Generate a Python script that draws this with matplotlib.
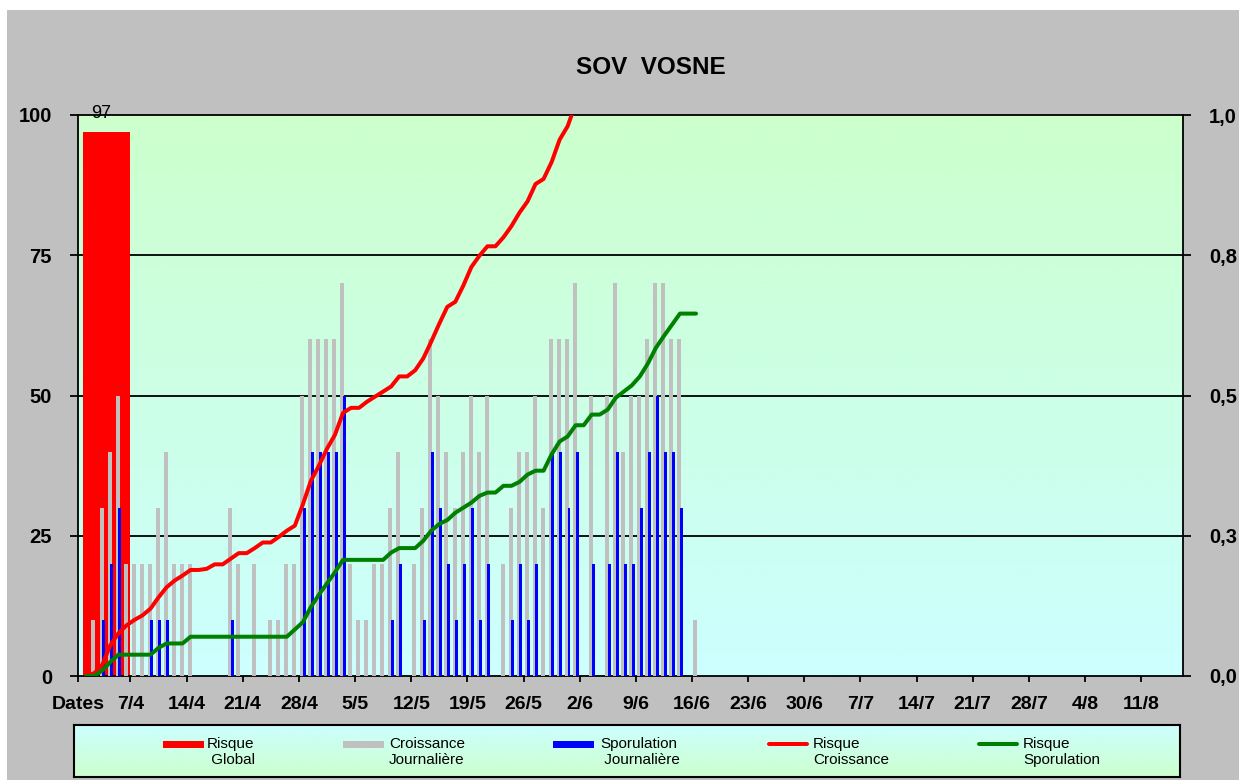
import numpy as np
import matplotlib
matplotlib.use("Agg")
import matplotlib.pyplot as plt
from matplotlib.patches import Rectangle
from matplotlib.lines import Line2D

plt.rcParams['font.family'] = ['Liberation Sans', 'DejaVu Sans']

# ---------------- data ----------------
title = "SOV  VOSNE"
date_labels = ["Dates", "7/4", "14/4", "21/4", "28/4", "5/5", "12/5", "19/5", "26/5", "2/6",
               "9/6", "16/6", "23/6", "30/6", "7/7", "14/7", "21/7", "28/7", "4/8", "11/8"]
left_ticks = [0, 25, 50, 75, 100]
right_ticks = [0.0, 0.25, 0.5, 0.75, 1.0]
right_tick_labels = ["0,0", "0,3", "0,5", "0,8", "1,0"]

risque_global = 97
risque_global_day = 2.5

croissance_journaliere = [0, 10, 30, 40, 50, 20, 20, 20, 20, 30, 40, 20, 20, 20, 0, 0, 0, 0, 30, 20,
                          0, 20, 0, 10, 10, 20, 20, 50, 60, 60, 60, 60, 70, 20, 10, 10, 20, 20, 30, 40,
                          0, 20, 30, 60, 50, 40, 30, 40, 50, 40, 50, 0, 20, 30, 40, 40, 50, 30, 60, 60,
                          60, 70, 0, 50, 0, 50, 70, 40, 50, 50, 60, 70, 70, 60, 60, 0, 10]
sporulation_journaliere = [0, 0, 10, 20, 30, 0, 0, 0, 10, 10, 10, 0, 0, 0, 0, 0, 0, 0, 10, 0,
                           0, 0, 0, 0, 0, 0, 0, 30, 40, 40, 40, 40, 50, 0, 0, 0, 0, 0, 10, 20,
                           0, 0, 10, 40, 30, 20, 10, 20, 30, 10, 20, 0, 0, 10, 20, 10, 20, 0, 40, 40,
                           30, 40, 0, 20, 0, 20, 40, 20, 20, 30, 40, 50, 40, 40, 30, 0, 0]
risque_croissance = [0, 0.5, 2, 5.5, 7.6, 9, 10, 10.8, 12, 14, 15.8, 17, 17.9, 18.9, 18.9, 19.1,
                     19.9, 19.9, 20.9, 21.9, 21.9, 22.8, 23.8, 23.8, 24.8, 25.9, 26.8, 30.6, 34.8,
                     37.5, 40.5, 43, 46.9, 47.8, 47.8, 48.9, 49.8, 50.7, 51.6, 53.4, 53.4, 54.5,
                     56.6, 59.6, 62.8, 65.8, 66.7, 69.6, 72.9, 74.9, 76.6, 76.6, 78.2, 80.2, 82.6,
                     84.6, 87.7, 88.6, 91.6, 95.6, 98, 102]
risque_sporulation = [0, 0, 1, 2.5, 3.8, 3.8, 3.8, 3.8, 3.8, 5, 5.8, 5.8, 5.8, 7, 7, 7, 7, 7, 7, 7,
                      7, 7, 7, 7, 7, 7, 8.3, 9.6, 12.3, 14.5, 16.5, 18.5, 20.7, 20.7, 20.7, 20.7,
                      20.7, 20.7, 22, 22.8, 22.8, 22.8, 24.1, 25.9, 27.1, 27.8, 29.1, 30, 30.9,
                      32.1, 32.7, 32.7, 33.9, 33.9, 34.6, 35.9, 36.6, 36.6, 39.5, 41.8, 42.7, 44.7,
                      44.7, 46.6, 46.6, 47.5, 49.6, 50.7, 51.8, 53.4, 55.7, 58.5, 60.6, 62.6, 64.6,
                      64.6, 64.6]

legend_labels = [("Risque", " Global"), ("Croissance", "Journalière"), ("Sporulation", " Journalière"),
                 ("Risque", "Croissance"), ("Risque", "Sporulation")]

# ---------------- figure ----------------
W, H = 1239, 780
fig = plt.figure(figsize=(W / 100, H / 100), dpi=100)
fig.patch.set_facecolor('white')
fig.patches.append(Rectangle((7 / W, 0), 1, 1 - 10 / H, transform=fig.transFigure,
                             facecolor='#C0C0C0', edgecolor='none', zorder=-10))

px = 0.72  # points per pixel

L, R, T, B = 78, 1183, 115, 676
ax = fig.add_axes([L / W, 1 - B / H, (R - L) / W, (B - T) / H])
xmin, xmax = -1.03, 136.7
ax.set_xlim(xmin, xmax)
ax.set_ylim(0, 100)

# gradient background
grad = np.linspace(0, 1, 256).reshape(-1, 1)
top_c = np.array([204, 255, 204]) / 255
bot_c = np.array([204, 255, 255]) / 255
img = top_c[None, None, :] * (1 - grad[:, :, None]) + bot_c[None, None, :] * grad[:, :, None]
ax.imshow(img, extent=[xmin, xmax, 0, 100], aspect='auto', origin='upper', zorder=0)

for g in [25, 50, 75]:
    ax.axhline(g, color='black', lw=1.3, zorder=1)

days = np.arange(len(croissance_journaliere))
ax.bar(risque_global_day, risque_global, width=5.86, color='#FF0000', zorder=2)
ax.text(risque_global_day - 0.6, 99.5, str(risque_global), ha='center', va='baseline',
        fontsize=13, color='black', zorder=6, clip_on=False)
ax.bar(days - 0.1, croissance_journaliere, width=0.5, color='#C0C0C0', zorder=3)
ax.bar(days + 0.17, sporulation_journaliere, width=0.37, color='#0000FF', zorder=4)

# axes styling
for s in ['left', 'bottom', 'top']:
    ax.spines[s].set_color('black')
    ax.spines[s].set_linewidth(1.3)
ax.spines['right'].set_visible(False)
ax.set_yticks(left_ticks)
ax.set_yticklabels([str(v) for v in left_ticks], fontsize=14.5, fontweight='bold')
ax.tick_params(axis='y', direction='out', length=8 * px, width=1.3, pad=13, colors='black')

tick_pos = 5.5 + 7 * np.arange(-1, len(date_labels) - 1)
tick_pos = tick_pos.astype(float)
tick_pos[0] = xmin
ax.set_xticks(tick_pos)
ax.set_xticklabels(date_labels, fontsize=14, fontweight='bold')
ax.tick_params(axis='x', direction='out', length=6 * px, width=1.3, pad=10)

ax2 = ax.twinx()
ax2.set_ylim(0, 1.0)
ax2.set_xlim(xmin, xmax)
for s in ['left', 'bottom', 'top']:
    ax2.spines[s].set_visible(False)
ax2.spines['right'].set_linewidth(1.3)
ax2.set_yticks(right_ticks)
ax2.set_yticklabels(right_tick_labels, fontsize=14.5, fontweight='bold')
ax2.tick_params(axis='y', direction='out', length=8 * px, width=1.3, pad=13)

ax2.plot(np.arange(len(risque_croissance)), np.array(risque_croissance) / 100, color='#FF0000',
         lw=4 * px, solid_joinstyle='round', solid_capstyle='round', zorder=5)
ax2.plot(np.arange(len(risque_sporulation)), np.array(risque_sporulation) / 100, color='#008000',
         lw=4 * px, solid_joinstyle='round', solid_capstyle='round', zorder=5)

fig.text(651 / W, 1 - 68 / H, title, ha='center', va='center', fontsize=17.5, fontweight='bold')

# ---------------- legend ----------------
LL, LR, LT, LB = 74, 1180, 725, 777
lax = fig.add_axes([LL / W, 1 - LB / H, (LR - LL) / W, (LB - LT) / H])
lax.set_xlim(LL, LR)
lax.set_ylim(LB, LT)
limg = bot_c[None, None, :] * (1 - grad[:, :, None]) + top_c[None, None, :] * grad[:, :, None]
lax.imshow(limg, extent=[LL, LR, LB, LT], aspect='auto', origin='upper', zorder=0)
lax.set_xticks([])
lax.set_yticks([])
for s in lax.spines.values():
    s.set_linewidth(1.5)
    s.set_color('black')

sym_x = [163, 343, 553, 767, 977]
txt_x = [207, 389, 600, 813, 1023]
sym_y = 744
kinds = ['patch', 'patch', 'patch', 'line', 'line']
colors = ['#FF0000', '#C0C0C0', '#0000FF', '#FF0000', '#008000']
for i in range(5):
    if kinds[i] == 'patch':
        lax.add_patch(Rectangle((sym_x[i], sym_y - 3.5), 41, 7, facecolor=colors[i],
                                edgecolor='none', zorder=2))
    else:
        lax.add_line(Line2D([sym_x[i] + 2, sym_x[i] + 40], [sym_y, sym_y], color=colors[i],
                            lw=4 * px, solid_capstyle='round', zorder=2))
    lax.text(txt_x[i], 744, legend_labels[i][0], fontsize=11, va='center', ha='left', zorder=3)
    lax.text(txt_x[i], 760, legend_labels[i][1], fontsize=11, va='center', ha='left', zorder=3)

fig.savefig('out.png', dpi=100, facecolor=fig.get_facecolor())
